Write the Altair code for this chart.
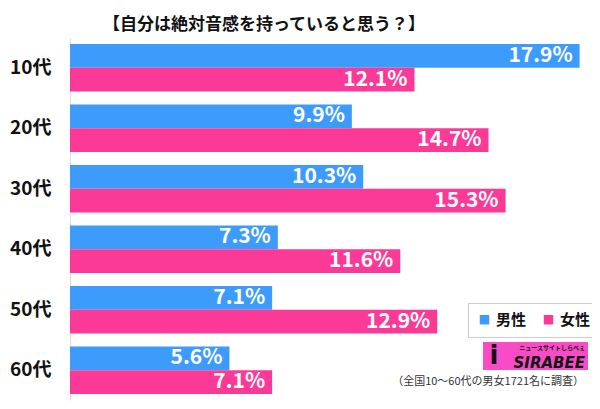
import altair as alt
import pandas as pd

ages = ["10代", "20代", "30代", "40代", "50代", "60代"]
male = [17.9, 9.9, 10.3, 7.3, 7.1, 5.6]
female = [12.1, 14.7, 15.3, 11.6, 12.9, 7.1]
sexes = ["男性", "女性"]
colors = ["#3D9CFB", "#FA3A96"]
title_text = "【自分は絶対音感を持っていると思う？】"
footer_text = "（全国10〜60代の男女1721名に調査）"

rows = []
for a, m, f in zip(ages, male, female):
    rows.append({"age": a, "sex": "男性", "value": m, "label": f"{m:.1f}%"})
    rows.append({"age": a, "sex": "女性", "value": f, "label": f"{f:.1f}%"})
df = pd.DataFrame(rows)

FONT = "Noto Sans CJK JP"

base = alt.Chart(df).encode(
    y=alt.Y("age:N", sort=ages, title=None,
            scale=alt.Scale(paddingInner=0.215, paddingOuter=0.1),
            axis=alt.Axis(ticks=False, labelFontSize=19, labelFontWeight="bold",
                          labelColor="#111111", labelPadding=19, labelFont=FONT,
                          domainColor="#dddddd", domainWidth=1)),
    yOffset=alt.YOffset("sex:N", sort=sexes,
                        scale=alt.Scale(paddingInner=0, paddingOuter=0)),
    x=alt.X("value:Q", scale=alt.Scale(domain=[0, 18.3], nice=False), axis=None),
)

bars = base.mark_bar().encode(
    color=alt.Color("sex:N", sort=sexes,
                    scale=alt.Scale(domain=sexes, range=colors),
                    legend=alt.Legend(title=None, orient="none", legendX=398, legendY=265,
                                      direction="horizontal", padding=9,
                                      strokeColor="#cccccc", fillColor="white",
                                      symbolType="square", symbolSize=90,
                                      symbolStrokeWidth=0,
                                      labelFontSize=15, labelFontWeight="bold",
                                      labelFont=FONT, labelColor="#111111",
                                      columnPadding=14))
)

labels = base.mark_text(align="right", baseline="middle", dx=-7, color="white",
                        fontSize=21, fontWeight="bold", font=FONT).encode(
    text="label:N"
)

one = pd.DataFrame({"t": [title_text]})
title = alt.Chart(one).mark_text(fontSize=17, fontWeight="bold", font=FONT,
                                 color="#111111", align="center", baseline="middle").encode(
    x=alt.value(194), y=alt.value(-13), text="t:N")

foot = alt.Chart(pd.DataFrame({"t": [footer_text]})).mark_text(
    fontSize=11, font=FONT, color="#333333", align="right", baseline="middle").encode(
    x=alt.value(514), y=alt.value(344), text="t:N")

logo_rect = alt.Chart(one).mark_rect(color="#F74CC6").encode(
    x=alt.value(413), x2=alt.value(518), y=alt.value(304), y2=alt.value(332))
logo_text = alt.Chart(pd.DataFrame({"t": ["SIRABEE"]})).mark_text(
    fontSize=15, fontWeight="bold", fontStyle="italic", font="DejaVu Sans",
    color="#111111", align="right", baseline="middle").encode(
    x=alt.value(515), y=alt.value(325), text="t:N")
logo_small = alt.Chart(pd.DataFrame({"t": ["ニュースサイトしらべぇ"]})).mark_text(
    fontSize=6, fontWeight="bold", font=FONT,
    color="#111111", align="right", baseline="middle").encode(
    x=alt.value(515), y=alt.value(310), text="t:N")
logo_i = alt.Chart(pd.DataFrame({"t": ["i"]})).mark_text(
    fontSize=26, fontWeight="bold", font="DejaVu Sans",
    color="#111111", align="center", baseline="middle").encode(
    x=alt.value(424), y=alt.value(318), text="t:N")

chart = alt.layer(bars, labels, title, foot, logo_rect, logo_text, logo_small, logo_i).properties(
    width=521, height=362,
    padding={"left": 62, "top": 30, "right": 1, "bottom": 7},
    autosize="none",
    background="white",
).configure_view(stroke=None)

chart.save("out.html", embed_options={"renderer": "svg", "actions": False})
